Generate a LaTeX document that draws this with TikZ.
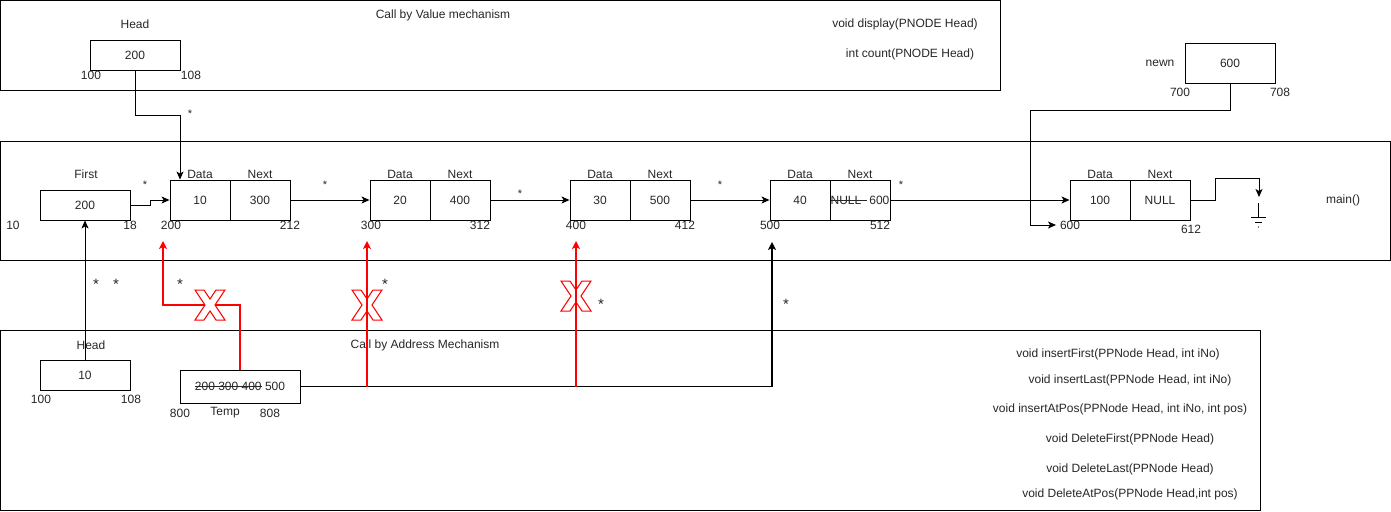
\documentclass[tikz,border=0pt]{standalone}
\usepackage{fontspec}
\setmainfont{Liberation Sans}
\usetikzlibrary{arrows.meta,calc}
\newsavebox{\strikebox}
\newcommand\mystrike[1]{\leavevmode\sbox{\strikebox}{#1}\rlap{\rule[0.3em]{\wd\strikebox}{0.6pt}}\usebox{\strikebox}}
\begin{document}
\begin{tikzpicture}[x=1pt,y=-1pt,
  font=\fontsize{12}{14}\selectfont,
  every node/.style={inner sep=0pt, text=black!85},
  cell/.style={draw, line width=0.9pt, minimum width=60pt, minimum height=40pt, anchor=center},
  vbox/.style={draw, line width=0.9pt, minimum width=90pt, minimum height=30pt, anchor=center},
  panel/.style={draw, line width=0.9pt},
  arr/.style={line width=0.9pt, -{Stealth[length=8pt,width=7pt,inset=2pt]}},
  redarr/.style={draw=red, line width=1.8pt, -{Stealth[length=8pt,width=8pt,inset=2pt]}},
  star/.style={font=\fontsize{11}{12}\selectfont},
  bigstar/.style={font=\fontsize{15}{16}\selectfont},
  redx/.style={draw=red, line width=1pt, line join=miter},
]
\useasboundingbox (0,0) rectangle (1391,511);

% panels
\draw[panel] (0.5,0.5) rectangle (1000,90);
\draw[panel] (0.5,141) rectangle (1390,260);
\draw[panel] (0.5,330) rectangle (1260,510);

\node (cbv) at (443,15) {Call by Value mechanism};
\node (disp) at (905,24) {void display(PNODE Head)};
\node (cnt) at (910,54) {int count(PNODE Head)};

% top Head
\node (headlbl) at (135,24) {Head};
\node[vbox] (headv) at (135,55) {200};
\node (h100) at (91,75) {100};
\node (h108) at (191,75) {108};

% newn
\node (newnlbl) at (1160,63) {newn};
\node[vbox, minimum height=40pt] (newn) at (1230,63) {600};
\node (n700) at (1180,92) {700};
\node (n708) at (1280,92) {708};

% First
\node (firstlbl) at (86,174) {First};
\node[vbox] (first) at (85,205) {200};
\node (f10) at (13,225) {10};
\node (f18) at (130,225) {18};

% linked nodes
\foreach \i/\x/\d in {1/200/10, 2/400/20, 3/600/30, 4/800/40, 5/1100/100}{
  \node[cell] (n\i d) at (\x,200) {\d};
  \node (dl\i) at (\x,174) {Data};
  \node (nl\i) at (\x+60,174) {Next};
}
\node[cell] (n1n) at (260,200) {300};
\node[cell] (n2n) at (460,200) {400};
\node[cell] (n3n) at (660,200) {500};
\node[cell] (n4n) at (860,200) {\mystrike{NULL\hspace{6pt}}\hspace{2pt}600};
\node[cell] (n5n) at (1160,200) {NULL};

\node (a200) at (171,225) {200};
\node (a212) at (290,225) {212};
\node (a300) at (371,225) {300};
\node (a312) at (480,225) {312};
\node (a400) at (576,225) {400};
\node (a412) at (685,225) {412};
\node (a500) at (770,225) {500};
\node (a512) at (880,225) {512};
\node (a600) at (1070,225) {600};
\node (a612) at (1191,229) {612};

\node (main) at (1343,200) {main()};

% connectors in middle
\draw[arr] (first.east) -- ++(20,0) |- (n1d.west);
\draw[arr] (n1n.east) -- (n2d.west);
\draw[arr] (n2n.east) -- (n3d.west);
\draw[arr] (n3n.east) -- (n4d.west);
\draw[arr] (n4n.east) -- (n5d.west);
\node[star] (s0) at (145,185) {*};
\node[star] (s1) at (325,185) {*};
\node[star] (s2) at (520,194) {*};
\node[star] (s3) at (720,185) {*};
\node[star] (s4) at (901,185) {*};

% Head (top) -> node1
\coordinate (hv) at (180,115);
\draw[arr] (headv.south) |- (hv) -- (hv |- n1d.north);
\node[star] (s5) at (190,114) {*};

% newn -> node5
\coordinate (nw1) at (1030,110);
\coordinate (nw2) at (1056,225);
\draw[arr] (newn.south) |- (nw1) |- (nw2);

% ground
\coordinate (gtop) at (1259,197);
\draw[arr] (n5n.east) -- ++(25,0) -- ++(0,-22) -| (gtop);
\draw[line width=0.9pt] (1258.5,203) -- (1258.5,217) (1251,217) -- (1266,217) (1255,222.5) -- (1262,222.5);
\fill (1258.5,227) circle (0.7pt);

% bottom panel
\node (cba) at (425,345) {Call by Address Mechanism};
\node (bheadlbl) at (91,345) {Head};
\node[vbox] (bhead) at (85,375) {10};
\node (b100) at (41,399) {100};
\node (b108) at (131,399) {108};
\draw[arr] (bhead.north) -- (bhead.north |- first.south);
\node[bigstar] (s6) at (96,284) {*};
\node[bigstar] (s7) at (116,284) {*};

\node[vbox, minimum width=120pt, minimum height=33pt] (temp) at (240,386.5) {\mystrike{200 300 400} 500};
\node (t800) at (180,413) {800};
\node (ttemp) at (225,413) {Temp};
\node (t808) at (270,413) {808};

% red crossed X marks (behind lines)
\foreach \cx/\cy in {367/305, 576/296}{
  \draw[redx] (\cx-15,\cy-15) -- (\cx-6,\cy-15) -- (\cx,\cy-6) -- (\cx+6,\cy-15) -- (\cx+15,\cy-15) -- (\cx+5,\cy) -- (\cx+15,\cy+15) -- (\cx+6,\cy+15) -- (\cx,\cy+6) -- (\cx-6,\cy+15) -- (\cx-15,\cy+15) -- (\cx-5,\cy) -- cycle;
}

% thick black path from temp to node4
\coordinate (tb) at (772,386.5);
\draw[line width=1.8pt, -{Stealth[length=8pt,width=8pt,inset=2pt]}] (temp.east) -- (tb) -- (772,242);

% red paths
\coordinate (r1) at (240,305);
\coordinate (r1b) at (163,305);
\draw[redarr] (temp.north -| r1) -- (r1) -- (r1b) -- (163,241);
\coordinate (r2) at (367,386.5);
\draw[redarr] (r2) -- (367,241);
\coordinate (r3) at (576,386.5);
\draw[redarr] (r3) -- (576,241);

% front X mark
\draw[redx, fill=white] (195,290) -- (204,290) -- (210,299) -- (216,290) -- (225,290) -- (215,305) -- (225,320) -- (216,320) -- (210,311) -- (204,320) -- (195,320) -- (205,305) -- cycle;

\node[bigstar] (s8) at (180,284) {*};
\node[bigstar] (s9) at (385,284) {*};
\node[bigstar] (s10) at (601,304) {*};
\node[bigstar] (s11) at (786,304) {*};

% functions
\node (f1) at (1118,354) {void insertFirst(PPNode Head, int iNo)};
\node (f2) at (1130,380) {void insertLast(PPNode Head, int iNo)};
\node (f3) at (1120,409) {void insertAtPos(PPNode Head, int iNo, int pos)};
\node (f4) at (1130,439) {void DeleteFirst(PPNode Head)};
\node (f5) at (1130,469) {void DeleteLast(PPNode Head)};
\node (f6) at (1130,494) {void DeleteAtPos(PPNode Head,int pos)};
\end{tikzpicture}
\end{document}
